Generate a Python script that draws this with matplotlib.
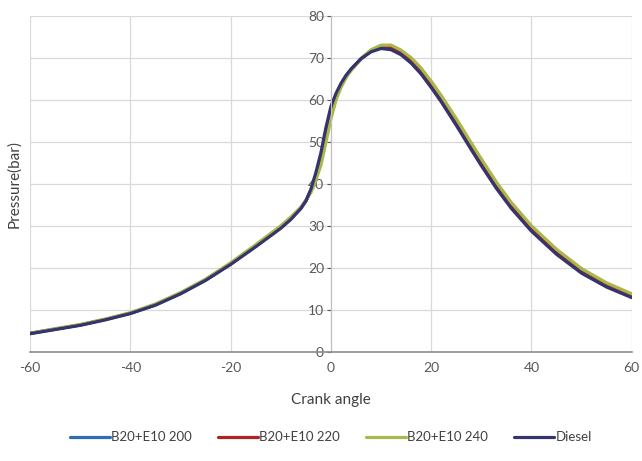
import numpy as np
import matplotlib
matplotlib.use("Agg")
import matplotlib.pyplot as plt

plt.rcParams['font.family'] = ['Lato', 'DejaVu Sans']
plt.rcParams['axes.unicode_minus'] = False

# crank angle (deg) and cylinder pressure (bar) for each fuel
angle = [-60, -55, -50, -45, -40, -35, -30, -25, -20, -15, -10, -8, -6, -5, -4, -3,
         -2, -1, 0, 1, 2, 3, 4, 6, 8, 10, 12, 14, 16, 18, 20, 22, 25, 28, 30, 33,
         36, 40, 45, 50, 55, 60]
p_b20_200 = [4.5, 5.5, 6.5, 7.8, 9.3, 11.3, 14.0, 17.2, 21.0, 25.3, 29.7, 31.8, 34.3, 36.0,
             38.5, 42.2, 46.6, 52.5, 57.8, 61.2, 63.7, 65.7, 67.3, 69.8, 71.7, 72.6, 72.4,
             71.2, 69.3, 66.8, 63.6, 60.2, 54.6, 48.8, 45.0, 39.6, 34.8, 29.3, 23.8, 19.3,
             15.9, 13.3]
p_b20_220 = [4.5, 5.5, 6.5, 7.8, 9.3, 11.3, 14.0, 17.2, 21.1, 25.4, 29.8, 31.9, 34.4, 36.1,
             38.4, 41.8, 46.0, 51.8, 57.2, 60.9, 63.5, 65.6, 67.2, 69.8, 71.8, 72.8, 72.7,
             71.5, 69.6, 67.1, 64.0, 60.6, 55.0, 49.2, 45.4, 40.0, 35.1, 29.7, 24.1, 19.6,
             16.2, 13.6]
p_b20_240 = [4.5, 5.6, 6.6, 7.9, 9.4, 11.5, 14.2, 17.4, 21.3, 25.6, 30.1, 32.2, 34.5, 36.2,
             38.0, 41.0, 44.5, 50.0, 55.5, 60.0, 63.0, 65.3, 67.0, 69.9, 72.0, 73.1, 73.1,
             71.9, 70.1, 67.6, 64.5, 61.1, 55.6, 49.8, 46.0, 40.5, 35.6, 30.1, 24.5, 19.9,
             16.5, 13.9]
p_diesel = [4.4, 5.4, 6.4, 7.7, 9.2, 11.2, 13.9, 17.1, 20.9, 25.1, 29.5, 31.6, 34.2, 36.0,
            38.8, 42.8, 47.5, 53.5, 58.5, 61.6, 64.0, 65.9, 67.4, 69.9, 71.5, 72.3, 72.0,
            70.8, 68.8, 66.2, 63.0, 59.6, 54.0, 48.2, 44.4, 39.0, 34.2, 28.8, 23.3, 18.8,
            15.5, 13.0]

labels = ['B20+E10 200', 'B20+E10 220', 'B20+E10 240', 'Diesel']
colors = ['#2e6db4', '#b22222', '#a8b84a', '#34346e']

fig = plt.figure(figsize=(6.42, 4.61), dpi=100)
ax = fig.add_axes([0.047, 0.236, 0.937, 0.729])

for p, lab, c in zip([p_b20_200, p_b20_220, p_b20_240, p_diesel], labels, colors):
    ax.plot(angle, p, color=c, lw=2.3, label=lab, solid_capstyle='round',
            solid_joinstyle='round')

ax.set_xlim(-60, 60)
ax.set_ylim(0, 80)
ax.set_xticks(range(-60, 61, 20))
ax.set_yticks(range(0, 81, 10))
ax.grid(True, color='#d9d9d9', lw=0.9)
ax.set_axisbelow(True)

# y axis sits on zero crank angle
ax.spines['left'].set_position(('data', 0))
ax.spines['left'].set_color('#bfbfbf')
ax.spines['bottom'].set_color('#8c8c8c')
ax.spines['bottom'].set_linewidth(1.2)
ax.spines['top'].set_visible(False)
ax.spines['right'].set_visible(False)
ax.tick_params(axis='both', colors='#595959', labelsize=10, length=0, pad=7)
ax.tick_params(axis='y', length=3, direction='out', pad=2)

ax.set_xlabel('Crank angle', fontsize=11, color='#404040', labelpad=14)
fig.text(0.022, 0.6, 'Pressure(bar)', rotation=90, fontsize=11, color='#404040',
         ha='center', va='center')

ax.legend(loc='upper center', bbox_to_anchor=(0.5, -0.2), ncol=4, frameon=False,
          fontsize=9.5, handlelength=3.0, handletextpad=0.1, columnspacing=2.0,
          labelcolor='#404040')

fig.savefig('out.png', dpi=100)
